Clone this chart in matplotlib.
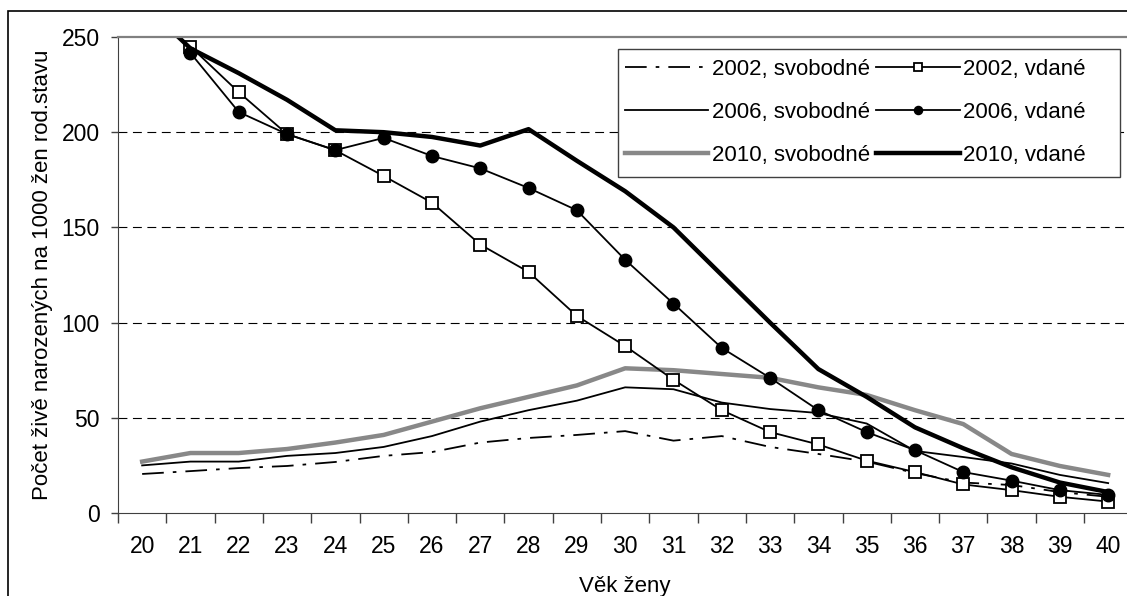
import matplotlib.pyplot as plt
import matplotlib.patches as mpatches
import numpy as np

plt.rcParams['font.family'] = ['Liberation Sans', 'DejaVu Sans']

vek = list(range(20, 41))

svob_2002 = [20.5, 22, 23.6, 24.7, 26.8, 30, 32, 37, 39.4, 41, 43, 38, 40.4, 34.7, 31, 27, 21, 16, 14.7, 11, 8.5]
svob_2006 = [25, 27, 27, 30, 31.5, 34.7, 40.4, 48, 54, 59, 66, 65, 58, 54.6, 52.5, 47, 32.6, 29.4, 26, 20, 15.7]
svob_2010 = [27, 31.5, 31.5, 33.6, 37, 41, 48, 55, 61, 67, 76, 75, 73, 71, 66, 62, 54, 46.7, 31, 24.7, 20]
vdane_2002 = [None, 245, 221, 199, 190.5, 177, 163, 141, 126.6, 103.5, 87.7, 70, 54, 42.5, 36, 27.5, 21.5, 15, 12, 8.5, 6]
vdane_2006 = [None, 241.6, 210.6, 199, 190.6, 197, 187.5, 181, 170.7, 159, 133, 110, 86.7, 71, 54, 42.5, 33, 21.5, 17, 12, 9.5]
vdane_2010 = [268, 244, 231, 217, 201, 200, 197.5, 193, 201.6, 185, 169, 150, 125, 100, 75.6, 61, 45, 34, 24, 16, 11]

def arr(v):
    return np.array([np.nan if x is None else x for x in v], dtype=float)

fs = 16

fig = plt.figure(figsize=(11.27, 5.96), dpi=100)
ax = fig.add_axes([118/1127, 1 - 513/596, 1014.3/1127, 476/596])

# ramecek kolem grafu (orizly vpravo a dole)
fig.patches.append(mpatches.Rectangle((8/1127, -0.1), 1.2, (596 - 11)/596 + 0.1,
                                      transform=fig.transFigure, fill=False,
                                      lw=1.2, ec='black'))

l1, = ax.plot(vek, svob_2002, color='black', lw=1.3, dashes=(12, 5, 2, 5))
l3, = ax.plot(vek, svob_2006, color='black', lw=1.3)
l5, = ax.plot(vek, svob_2010, color='#888888', lw=3.2)
l2, = ax.plot(vek, arr(vdane_2002), color='black', lw=1.3, marker='s', ms=8.5,
              mfc='white', mec='black', mew=1.3)
l4, = ax.plot(vek, arr(vdane_2006), color='black', lw=1.3, marker='o', ms=9,
              mfc='black', mec='black')
l6, = ax.plot(vek, vdane_2010, color='black', lw=3.2)

ax.set_xlim(19.5, 40.5)
ax.set_ylim(0, 250)
ax.set_yticks([0, 50, 100, 150, 200, 250])
ax.set_xticks(np.arange(19.5, 41, 1))
ax.set_xticklabels([])
ax.set_xticks(vek, minor=True)
ax.set_xticklabels([str(v) for v in vek], minor=True)
ax.tick_params(axis='x', which='major', direction='out', length=7, width=1, color='#404040')
ax.tick_params(axis='x', which='minor', length=0, pad=16, labelsize=fs + 0.5)
ax.tick_params(axis='y', direction='out', length=5, width=1, color='#404040',
               labelsize=fs + 0.5, pad=8)

for y in [50, 100, 150, 200]:
    ax.axhline(y, color='black', lw=0.8, dashes=(8, 5), zorder=0)

ax.spines['top'].set_color('#808080')
ax.spines['top'].set_linewidth(1.6)
ax.spines['right'].set_visible(False)
ax.spines['left'].set_color('#404040')
ax.spines['bottom'].set_color('#404040')

ax.set_xlabel('Věk ženy', fontsize=fs, labelpad=13)
ax.set_ylabel('Počet živě narozených na 1000 žen rod.stavu', fontsize=fs, labelpad=6)

# ramecek legendy
ax.add_patch(mpatches.Rectangle((500/1014.3, (513 - 177)/476), 502/1014.3, 128/476,
                                transform=ax.transAxes, fill=True, fc='white',
                                ec='#404040', lw=1, zorder=4))

leg = ax.legend([l1, l3, l5, l2, l4, l6],
                ['2002, svobodné', '2006, svobodné', '2010, svobodné',
                 '2002, vdané', '2006, vdané', '2010, vdané'],
                ncol=2, loc='upper left', bbox_to_anchor=(507/1014.3, (513 - 59)/476),
                fontsize=fs, handlelength=3.75, handletextpad=0.15,
                columnspacing=0.3, labelspacing=0.99, markerscale=0.65,
                frameon=False, borderpad=0, borderaxespad=0)
leg.set_zorder(5)

fig.savefig('out.png', dpi=100)
